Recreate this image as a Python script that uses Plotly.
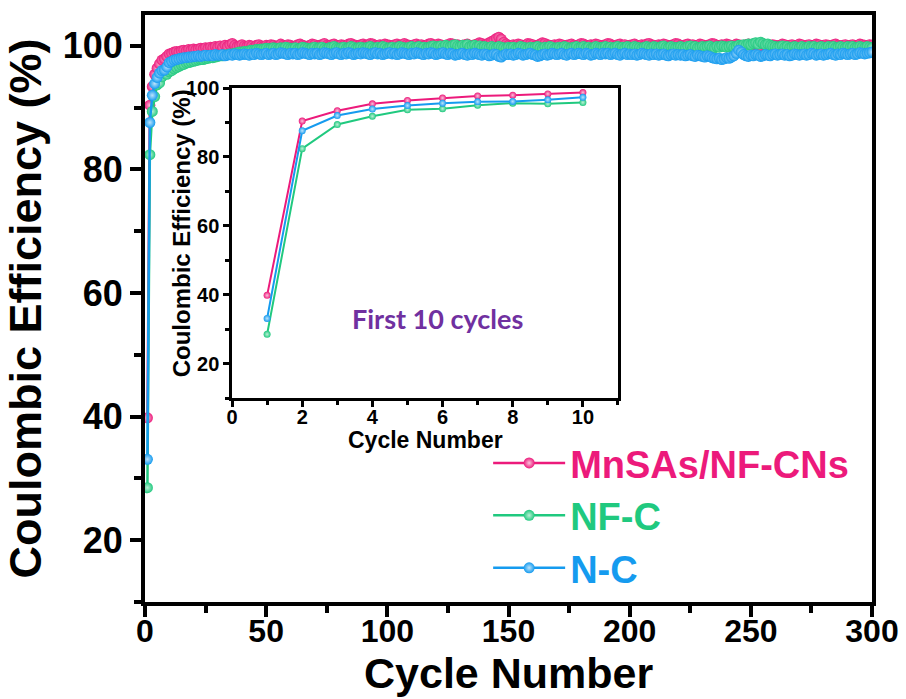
import plotly.graph_objects as go

cycles = list(range(1, 301))

mn_ce = [
    39.8, 90.4, 93.4, 95.4, 96.4, 97.1, 97.7, 97.9, 98.3, 98.7,
    98.8, 99.0, 99.1, 99.0, 99.2, 99.3, 99.2, 99.4, 99.3, 99.5,
    99.4, 99.5, 99.6, 99.5, 99.7, 99.6, 99.8, 99.7, 99.9, 99.8,
    100.0, 99.8, 100.1, 99.9, 100.2, 100.4, 100.1, 99.9, 100.0, 100.2,
    100.0, 99.9, 100.1, 100.0, 99.8, 100.1, 100.2, 100.0, 99.9, 100.1,
    100.0, 100.2, 100.1, 99.9, 100.0, 100.3, 100.1, 100.0, 100.2, 100.1,
    99.9, 100.0, 100.2, 100.3, 100.1, 100.0, 99.9, 100.1, 100.3, 100.2,
    100.0, 100.1, 100.2, 100.4, 100.1, 100.0, 100.2, 100.3, 100.1, 100.0,
    100.2, 100.1, 100.0, 100.3, 100.4, 100.2, 100.1, 100.0, 100.2, 100.3,
    100.1, 100.2, 100.4, 100.3, 100.1, 100.0, 100.2, 100.1, 100.3, 100.2,
    100.1, 100.0, 100.2, 100.3, 100.1, 100.2, 100.4, 100.2, 100.1, 100.0,
    100.2, 100.3, 100.1, 100.2, 100.0, 100.1, 100.3, 100.4, 100.2, 100.1,
    100.3, 100.2, 100.0, 100.1, 100.2, 100.4, 100.3, 100.1, 100.2, 100.0,
    100.1, 100.2, 100.3, 100.1, 100.0, 100.2, 100.3, 100.5, 100.4, 100.2,
    100.3, 100.5, 100.7, 100.9, 101.2, 101.4, 101.1, 100.6, 100.3, 100.1,
    100.0, 100.2, 100.1, 100.3, 100.2, 100.0, 100.1, 100.4, 100.3, 100.2,
    100.0, 100.1, 100.3, 100.5, 100.4, 100.2, 100.1, 100.0, 100.2, 100.1,
    100.3, 100.2, 100.0, 100.1, 100.2, 100.3, 100.1, 100.0, 100.2, 100.4,
    100.3, 100.1, 100.0, 100.2, 100.1, 100.3, 100.2, 100.0, 100.1, 100.2,
    100.4, 100.3, 100.1, 100.0, 100.2, 100.3, 100.1, 100.2, 100.0, 100.1,
    100.2, 100.3, 100.1, 100.0, 100.2, 100.1, 100.3, 100.4, 100.2, 100.1,
    100.0, 100.2, 100.1, 100.3, 100.2, 100.0, 100.1, 100.2, 100.4, 100.3,
    100.1, 100.0, 100.2, 100.3, 100.1, 100.2, 100.0, 100.1, 100.3, 100.2,
    100.0, 100.1, 100.2, 100.4, 100.3, 100.1, 100.0, 100.2, 100.1, 100.3,
    100.2, 100.0, 100.1, 100.3, 100.2, 100.1, 100.0, 100.2, 100.3, 100.1,
    100.0, 100.2, 100.1, 100.0, 100.3, 100.2, 100.1, 100.0, 100.2, 100.1,
    100.0, 100.1, 100.3, 100.2, 100.0, 100.1, 100.2, 100.0, 100.1, 100.3,
    100.2, 100.0, 100.1, 100.2, 100.0, 100.1, 100.3, 100.2, 100.0, 100.1,
    100.2, 100.1, 100.0, 100.2, 100.3, 100.1, 100.0, 100.1, 100.2, 100.0,
    100.1, 100.2, 100.0, 100.1, 100.3, 100.2, 100.1, 100.0, 100.2, 100.1,
]

nfc_ce = [
    28.5, 82.4, 89.4, 91.8, 93.7, 94.0, 95.0, 95.6, 95.4, 95.8,
    96.0, 96.3, 96.5, 96.7, 96.9, 97.0, 97.2, 97.3, 97.4, 97.5,
    97.6, 97.7, 97.8, 97.8, 97.9, 98.0, 98.1, 98.1, 98.2, 98.3,
    98.4, 98.4, 98.5, 98.6, 98.7, 98.7, 98.8, 98.9, 99.0, 99.0,
    99.1, 99.1, 99.2, 99.3, 99.3, 99.4, 99.4, 99.5, 99.5, 99.6,
    99.5, 99.6, 99.7, 99.6, 99.5, 99.7, 99.6, 99.8, 99.7, 99.6,
    99.6, 99.7, 99.5, 99.6, 99.8, 99.7, 99.6, 99.5, 99.7, 99.8,
    99.6, 99.7, 99.8, 99.6, 99.5, 99.7, 99.8, 99.9, 99.7, 99.6,
    99.7, 99.8, 99.6, 99.7, 99.9, 99.8, 99.6, 99.7, 99.8, 99.7,
    99.6, 99.8, 99.9, 99.7, 99.6, 99.8, 99.7, 99.9, 99.8, 99.6,
    99.7, 99.8, 99.6, 99.7, 99.9, 99.8, 99.7, 99.6, 99.8, 99.9,
    99.7, 99.8, 99.9, 99.7, 99.8, 99.6, 99.8, 99.9, 100.0, 99.8,
    99.9, 100.0, 99.8, 100.1, 100.0, 99.9, 100.1, 100.2, 100.0, 99.9,
    100.1, 100.0, 100.2, 99.9, 100.0, 100.1, 99.9, 100.0, 99.8, 99.9,
    99.8, 99.7, 99.9, 99.8, 99.7, 99.9, 99.8, 99.7, 99.6, 99.8,
    99.7, 99.8, 99.6, 99.7, 99.9, 99.8, 99.7, 99.6, 99.8, 99.7,
    99.8, 99.9, 99.7, 99.6, 99.8, 99.7, 99.9, 99.8, 99.6, 99.7,
    99.8, 99.7, 99.9, 99.8, 99.6, 99.7, 99.8, 99.9, 99.7, 99.8,
    99.9, 99.7, 99.8, 99.6, 99.7, 99.9, 99.8, 99.7, 99.8, 99.9,
    99.7, 99.8, 99.6, 99.8, 99.9, 99.7, 99.8, 99.7, 99.9, 99.8,
    99.7, 99.9, 99.8, 99.7, 99.6, 99.8, 99.9, 99.8, 99.7, 99.9,
    99.8, 99.7, 99.9, 100.0, 99.8, 99.7, 99.9, 99.8, 99.7, 99.8,
    99.9, 99.8, 99.7, 99.9, 100.0, 99.8, 99.9, 99.7, 99.8, 99.9,
    99.8, 99.9, 100.0, 99.8, 99.7, 99.9, 99.8, 100.0, 99.9, 99.8,
    99.9, 100.0, 99.8, 99.9, 100.1, 100.0, 100.2, 100.1, 100.3, 100.2,
    100.4, 100.5, 100.3, 100.6, 100.4, 100.2, 100.3, 100.1, 100.0, 99.9,
    99.8, 99.9, 100.0, 99.8, 99.9, 99.7, 99.8, 99.9, 99.8, 99.7,
    99.9, 99.8, 99.7, 99.9, 99.8, 99.9, 99.7, 99.8, 99.9, 99.8,
    99.7, 99.9, 99.8, 99.9, 99.7, 99.8, 99.9, 99.8, 99.7, 99.9,
    99.8, 99.9, 99.7, 99.8, 99.9, 99.8, 99.7, 99.9, 99.8, 99.7,
]

nc_ce = [
    33.1, 87.6, 92.0, 93.9, 94.9, 95.6, 96.0, 96.1, 96.6, 97.3,
    97.5, 97.7, 97.8, 97.9, 98.0, 98.1, 98.1, 98.2, 98.2, 98.3,
    98.3, 98.4, 98.3, 98.4, 98.5, 98.4, 98.5, 98.4, 98.6, 98.5,
    98.5, 98.6, 98.4, 98.5, 98.6, 98.5, 98.7, 98.6, 98.5, 98.6,
    98.7, 98.6, 98.5, 98.7, 98.6, 98.8, 98.7, 98.6, 98.7, 98.8,
    98.6, 98.7, 98.8, 98.6, 98.7, 98.9, 98.8, 98.7, 98.6, 98.8,
    98.7, 98.8, 98.6, 98.7, 98.9, 98.8, 98.7, 98.6, 98.8, 98.7,
    98.8, 98.6, 98.7, 98.9, 98.8, 98.7, 98.6, 98.8, 98.9, 98.7,
    98.6, 98.8, 98.7, 98.9, 98.8, 98.6, 98.7, 98.8, 98.7, 98.9,
    98.8, 98.7, 98.6, 98.8, 98.9, 98.7, 98.8, 98.6, 98.7, 98.8,
    98.9, 98.7, 98.8, 98.6, 98.7, 98.9, 98.8, 98.7, 98.6, 98.8,
    98.7, 98.9, 98.8, 98.7, 98.6, 98.8, 98.7, 98.9, 98.8, 98.6,
    98.7, 98.8, 98.9, 98.7, 98.6, 98.8, 98.7, 98.5, 98.6, 98.7,
    98.8, 98.6, 98.5, 98.7, 98.6, 98.8, 98.7, 98.6, 98.5, 98.7,
    98.6, 98.4, 98.5, 98.7, 98.6, 98.3, 98.2, 98.5, 98.7, 98.6,
    98.7, 98.5, 98.6, 98.8, 98.7, 98.5, 98.6, 98.7, 98.8, 98.6,
    98.5, 98.3, 98.4, 98.6, 98.7, 98.5, 98.6, 98.8, 98.7, 98.6,
    98.7, 98.8, 98.6, 98.5, 98.7, 98.8, 98.6, 98.7, 98.8, 98.7,
    98.6, 98.8, 98.7, 98.5, 98.6, 98.8, 98.7, 98.6, 98.8, 98.7,
    98.8, 98.6, 98.7, 98.8, 98.6, 98.5, 98.7, 98.8, 98.6, 98.7,
    98.6, 98.7, 98.5, 98.6, 98.8, 98.7, 98.6, 98.5, 98.7, 98.6,
    98.7, 98.5, 98.6, 98.7, 98.5, 98.4, 98.6, 98.7, 98.5, 98.6,
    98.5, 98.6, 98.4, 98.5, 98.6, 98.4, 98.3, 98.5, 98.4, 98.3,
    98.2, 98.4, 98.3, 98.1, 98.0, 97.9, 98.0, 97.8, 97.9, 98.1,
    98.0, 98.2, 98.4, 98.8, 99.3, 99.0, 98.6, 98.4, 98.3, 98.5,
    98.4, 98.6, 98.5, 98.3, 98.4, 98.6, 98.5, 98.4, 98.6, 98.7,
    98.5, 98.6, 98.7, 98.5, 98.6, 98.4, 98.5, 98.7, 98.6, 98.5,
    98.6, 98.7, 98.5, 98.6, 98.8, 98.7, 98.5, 98.6, 98.7, 98.5,
    98.6, 98.7, 98.8, 98.6, 98.5, 98.7, 98.6, 98.8, 98.7, 98.6,
    98.7, 98.8, 98.6, 98.7, 98.9, 98.8, 98.7, 98.8, 98.9, 99.0,
]

series_names = ["MnSAs/NF-CNs", "NF-C", "N-C"]
series_values = [mn_ce, nfc_ce, nc_ce]
series_colors = ["#EC1A7B", "#20C97F", "#159BEF"]
series_centers = ["#FBC3DC", "#BDF0D6", "#BDE3FB"]

main_xticks = [0, 50, 100, 150, 200, 250, 300]
main_yticks = [20, 40, 60, 80, 100]
inset_xticks = [0, 2, 4, 6, 8, 10]
inset_yticks = [20, 40, 60, 80, 100]
n_inset = 10

FONT = "Liberation Sans, Arial, sans-serif"

fig = go.Figure()

for name, vals, col, cen in zip(series_names, series_values, series_colors, series_centers):
    fig.add_trace(go.Scatter(
        x=cycles, y=vals, mode="lines+markers",
        name=f"<span style='color:{col}'>{name}</span>",
        line=dict(color=col, width=2.5),
        marker=dict(size=11, color=col, line=dict(width=0),
                    gradient=dict(type="radial", color=cen)),
        xaxis="x", yaxis="y",
    ))

for name, vals, col, cen in zip(series_names, series_values, series_colors, series_centers):
    fig.add_trace(go.Scatter(
        x=cycles[:n_inset], y=vals[:n_inset], mode="lines+markers",
        showlegend=False,
        line=dict(color=col, width=2),
        marker=dict(size=7, color=col, line=dict(width=0),
                    gradient=dict(type="radial", color=cen)),
        xaxis="x2", yaxis="y2",
    ))

axis_common = dict(showgrid=False, zeroline=False, showline=True, mirror=True,
                   linecolor="black", ticks="outside", tickcolor="black",
                   automargin=False)

fig.update_layout(
    width=906, height=699,
    margin=dict(l=145, r=34, t=15, b=97),
    paper_bgcolor="white", plot_bgcolor="white",
    font=dict(family=FONT, color="black"),
    xaxis=dict(**axis_common, domain=[0, 1], range=[0, 300],
               tickvals=main_xticks, linewidth=4, tickwidth=4, ticklen=11,
               ticklabelstandoff=-13,
               minor=dict(dtick=25, ticks="outside", ticklen=7, tickwidth=4, tickcolor="black"),
               tickfont=dict(size=32, family=FONT, weight="bold")),
    yaxis=dict(**axis_common, domain=[0, 1], range=[10, 105],
               tickvals=main_yticks, linewidth=4, tickwidth=4, ticklen=11,
               minor=dict(dtick=10, ticks="outside", ticklen=7, tickwidth=4, tickcolor="black"),
               tickfont=dict(size=36, family=FONT, weight="bold"),
               title=dict(text="Coulombic Efficiency (%)",
                          font=dict(size=45, family=FONT, weight="bold"))),
    xaxis2=dict(**axis_common, domain=[0.1197, 0.6506], anchor="y2", range=[0, 11],
                tickvals=inset_xticks, linewidth=2.5, tickwidth=2.5, ticklen=6,
                ticklabelstandoff=-7,
                minor=dict(dtick=1, ticks="outside", ticklen=4, tickwidth=2.5, tickcolor="black"),
                tickfont=dict(size=20, family=FONT, weight="bold")),
    yaxis2=dict(**axis_common, domain=[0.3475, 0.8756], anchor="x2", range=[10, 100],
                tickvals=inset_yticks, linewidth=2.5, tickwidth=2.5, ticklen=6,
                minor=dict(dtick=10, ticks="outside", ticklen=4, tickwidth=2.5, tickcolor="black"),
                tickfont=dict(size=20, family=FONT, weight="bold")),
    legend=dict(x=0.472, y=0.29, xanchor="left", yanchor="top",
                bgcolor="rgba(0,0,0,0)", borderwidth=0,
                font=dict(size=38, family=FONT, weight="bold"),
                itemwidth=72, tracegroupgap=0),
    annotations=[
        dict(text="Cycle Number", x=0.5, y=-0.1206, xref="paper", yref="paper",
             xanchor="center", yanchor="middle", showarrow=False,
             font=dict(size=43, family=FONT, weight="bold")),
        dict(text="Cycle Number", x=0.5, y=0.2760, xref="x2 domain", yref="paper",
             xanchor="center", yanchor="middle", showarrow=False,
             font=dict(size=23, family=FONT, weight="bold")),
        dict(text="Coulombic Efficiency (%)", x=0.0495, y=0.628, xref="paper", yref="paper",
             xanchor="center", yanchor="middle", textangle=-90, showarrow=False,
             font=dict(size=24, family=FONT, weight="bold")),
        dict(text="First 10 cycles", x=5.86, y=33, xref="x2", yref="y2",
             showarrow=False,
             font=dict(size=27, family="Lato, Open Sans, sans-serif",
                       weight="bold", color="#7030A0")),
    ],
)

fig.write_html("out.html")
